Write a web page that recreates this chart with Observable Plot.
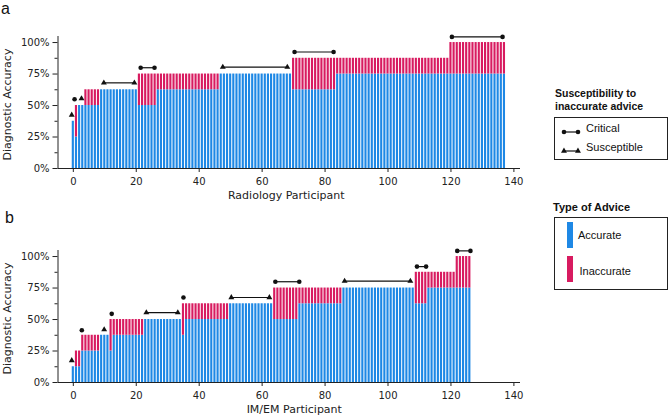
<!DOCTYPE html>
<html>
<head>
<meta charset="utf-8">
<script src="https://cdn.jsdelivr.net/npm/d3@7"></script>
<script src="https://cdn.jsdelivr.net/npm/@observablehq/plot@0.6"></script>
<style>
  body { margin: 0; background: #fff; }
  #fig { position: relative; width: 668px; height: 417px; overflow: hidden; background: #fff;
         font-family: "Liberation Sans", Arial, sans-serif; color: #111; }
  .abs { position: absolute; white-space: nowrap; }
  .panel { position: absolute; left: 0; }
  .panel svg { overflow: visible; }
  .plabel { font-size: 16px; line-height: 16px; }
  .lhead { font-weight: bold; font-size: 10.5px; line-height: 13px; }
  .lbox { border: 1px solid #222; box-sizing: border-box; }
  .ltext { font-size: 11px; line-height: 13px; }
</style>
</head>
<body>
<div id="fig"></div>
<script>
// ---------- Panel a: Radiology participants (runs of identical bars) ----------
const radRunLength = [1, 1, 2, 5, 12, 6, 20, 23, 14, 36, 18];
const radAccurate  = [37.5, 25, 50, 50, 62.5, 50, 62.5, 75, 62.5, 75, 75];
const radTotal     = [37.5, 50, 50, 62.5, 62.5, 75, 75, 75, 87.5, 87.5, 100];

const radMarkerType = ["triangle", "circle", "triangle", "triangle", "circle", "triangle", "circle", "circle"];
const radMarkerX1   = [-0.5, 0.4, 2.6, 9.7, 21.4, 47.5, 70.3, 120.3];
const radMarkerX2   = [-0.5, 0.4, 2.6, 19.4, 25.8, 68.0, 82.7, 136.4];
const radMarkerY    = [42.5, 55, 55.5, 68, 80, 80.5, 92.5, 104.5];

// ---------- Panel b: IM/EM participants ----------
const imRunLength = [1, 2, 6, 3, 1, 10, 12, 1, 14, 14, 8, 14, 23, 4, 9, 5];
const imAccurate  = [12.5, 12.5, 25, 37.5, 25, 37.5, 50, 37.5, 50, 62.5, 50, 62.5, 75, 62.5, 75, 75];
const imTotal     = [12.5, 25, 37.5, 37.5, 50, 50, 50, 62.5, 62.5, 62.5, 75, 75, 75, 87.5, 87.5, 100];

const imMarkerType = ["triangle", "circle", "triangle", "circle", "triangle", "circle", "triangle", "circle", "triangle", "circle", "circle"];
const imMarkerX1   = [-0.5, 2.7, 9.8, 12.2, 23.2, 35.0, 50.2, 64.2, 86.2, 109.2, 122.0];
const imMarkerX2   = [-0.5, 2.7, 9.8, 12.2, 33.2, 35.0, 62.3, 71.8, 107.1, 112.1, 126.2];
const imMarkerY    = [17.5, 41.5, 42, 54.5, 55.5, 67.5, 67.5, 80, 80.5, 92, 104.5];

// ---------- Axes & legend content ----------
const xTicks = [0, 20, 40, 60, 80, 100, 120, 140];
const yTicks = [0, 25, 50, 75, 100];
const yMinorTicks = [12.5, 37.5, 62.5, 87.5];
const xDomain = [-4.87, 142.1];
const yDomain = [0, 104.8];
const adviceTypes = ["Accurate", "Inaccurate"];
const adviceColors = ["#1E88E5", "#D81B60"];
const susceptibilityTypes = ["Critical", "Susceptible"];
const susceptibilitySymbols = ["circle", "triangle"];
const barHalfWidth = 0.34;

function expandRuns(runs, acc, tot) {
  const rows = [];
  let i = 0;
  runs.forEach((n, k) => {
    for (let j = 0; j < n; j++) rows.push({i: i++, acc: acc[k], tot: tot[k]});
  });
  return rows;
}
function markerRows(type, x1, x2, y) {
  return type.map((t, k) => ({type: t, x1: x1[k], x2: x2[k], y: y[k]}));
}

function panel(rows, markers, xLabel, labelDx) {
  const ends = [];
  markers.forEach(m => {
    ends.push({type: m.type, x: m.x1, y: m.y});
    if (m.x2 !== m.x1) ends.push({type: m.type, x: m.x2, y: m.y});
  });
  return Plot.plot({
    width: 530, height: 203,
    marginLeft: 57.5, marginRight: 10, marginTop: 36, marginBottom: 35,
    x: {domain: xDomain},
    y: {domain: yDomain},
    style: {fontFamily: "DejaVu Sans", fontSize: "10px", color: "#222", background: "white", overflow: "visible"},
    marks: [
      Plot.rectY(rows, {x1: d => d.i - barHalfWidth, x2: d => d.i + barHalfWidth, y1: 0, y2: "acc", fill: adviceColors[0]}),
      Plot.rectY(rows.filter(d => d.tot > d.acc), {x1: d => d.i - barHalfWidth, x2: d => d.i + barHalfWidth, y1: "acc", y2: "tot", fill: adviceColors[1]}),
      Plot.ruleY(markers.filter(m => m.x2 > m.x1), {x1: "x1", x2: "x2", y: "y", stroke: "#111", strokeWidth: 1.2}),
      Plot.dot(ends.filter(d => d.type === "circle"), {x: "x", y: "y", r: 2.3, fill: "#111", symbol: "circle"}),
      Plot.dot(ends.filter(d => d.type === "triangle"), {x: "x", y: "y", r: 2.2, fill: "#111", symbol: "triangle"}),
      Plot.axisY({ticks: yTicks, tickSize: 5, tickPadding: 3.5, tickFormat: d => d + "%", label: null}),
      Plot.axisY({ticks: yMinorTicks, tickSize: 3, tickFormat: () => "", label: null}),
      Plot.axisX({ticks: xTicks, tickSize: 4, tickPadding: 5, label: null}),
      Plot.ruleX([xDomain[0]], {stroke: "#222"}),
      Plot.ruleY([yDomain[0]], {stroke: "#222"}),
      Plot.text([xLabel], {frameAnchor: "bottom", lineAnchor: "bottom", textAnchor: "middle", dy: 30, dx: labelDx, fontSize: 11, fill: "#222"}),
      Plot.text(["Diagnostic Accuracy"], {frameAnchor: "left", rotate: -90, textAnchor: "middle", lineAnchor: "bottom", dx: -47, dy: 2, fontSize: 11, fill: "#222"})
    ]
  });
}

const fig = document.getElementById("fig");

const pa = document.createElement("div");
pa.className = "panel"; pa.style.top = "0px";
pa.appendChild(panel(expandRuns(radRunLength, radAccurate, radTotal),
  markerRows(radMarkerType, radMarkerX1, radMarkerX2, radMarkerY), "Radiology Participant", -3));
fig.appendChild(pa);

const pb = document.createElement("div");
pb.className = "panel"; pb.style.top = "214px";
pb.appendChild(panel(expandRuns(imRunLength, imAccurate, imTotal),
  markerRows(imMarkerType, imMarkerX1, imMarkerX2, imMarkerY), "IM/EM Participant", 5));
fig.appendChild(pb);

function add(html, cls, css) {
  const d = document.createElement("div");
  d.className = "abs " + (cls || "");
  d.innerHTML = html;
  Object.assign(d.style, css);
  fig.appendChild(d);
  return d;
}

// panel labels
add("a", "plabel", {left: "1px", top: "1px"});
add("b", "plabel", {left: "5px", top: "210px"});

// Legend 1: susceptibility
add("Susceptibility to<br>inaccurate advice", "lhead", {left: "555px", top: "87px"});
add("", "lbox", {left: "554px", top: "117px", width: "114px", height: "43px"});
function symbolIcon(sym) {
  const ns = "http://www.w3.org/2000/svg";
  const svg = document.createElementNS(ns, "svg");
  svg.setAttribute("width", "24"); svg.setAttribute("height", "10");
  const line = document.createElementNS(ns, "line");
  line.setAttribute("x1", 3); line.setAttribute("x2", 17); line.setAttribute("y1", 5); line.setAttribute("y2", 5);
  line.setAttribute("stroke", "#111"); line.setAttribute("stroke-width", 1.2);
  svg.appendChild(line);
  [3, 17].forEach(cx => {
    const p = document.createElementNS(ns, "path");
    const r = sym === "circle" ? 2.3 : 2.2;
    p.setAttribute("d", d3.symbol(sym === "circle" ? d3.symbolCircle : d3.symbolTriangle, r * r * Math.PI)());
    p.setAttribute("transform", `translate(${cx},5)`);
    p.setAttribute("fill", "#111");
    svg.appendChild(p);
  });
  return svg;
}
const sTops = [123, 142];
const sTextTops = [121.6, 140.6];
susceptibilityTypes.forEach((t, k) => {
  const ic = add("", "", {left: "561px", top: sTops[k] + "px", width: "24px", height: "10px"});
  ic.appendChild(symbolIcon(susceptibilitySymbols[k]));
  add(t, "ltext", {left: "586px", top: sTextTops[k] + "px"});
});

// Legend 2: type of advice
add("Type of Advice", "lhead", {left: "553px", top: "200.5px", fontSize: "11px"});
add("", "lbox", {left: "554px", top: "217px", width: "114px", height: "73px"});
const pTops = [222, 256];
const aTextTops = [228.6, 264.6];
adviceTypes.forEach((t, k) => {
  add("", "", {left: "567px", top: pTops[k] + "px", width: "6px", height: "26px", background: adviceColors[k]});
  add(t, "ltext", {left: (k === 0 ? 578 : 579.5) + "px", top: aTextTops[k] + "px"});
});
</script>
</body>
</html>
